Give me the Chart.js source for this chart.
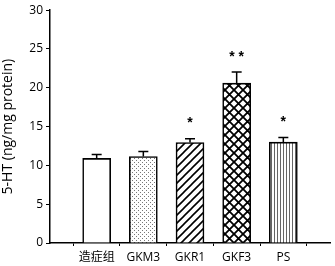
<!DOCTYPE html>
<html><head><meta charset="utf-8">
<script src="https://cdn.jsdelivr.net/npm/chart.js@4.4.0/dist/chart.umd.min.js"></script>
<style>html,body{margin:0;padding:0;background:#fff}#wrap{width:335px;height:266px}</style>
</head><body><div id="wrap"><canvas id="c" width="335" height="266"></canvas></div>
<script>
const categories = ['造症组', 'GKM3', 'GKR1', 'GKF3', 'PS'];
const values = [10.9, 11.15, 12.95, 20.6, 13.0];
const errorTops = [11.4, 11.8, 13.45, 22.05, 13.6];
const marks = ['', '', '*', '**', '*'];
const yTicks = [0, 5, 10, 15, 20, 25, 30];

function pat(kind){
  const c = document.createElement('canvas');
  const x = c.getContext('2d');
  let s = 8;
  if (kind==='dots') s = 4;
  if (kind==='diag') s = 8;
  if (kind==='cross') s = 9;
  if (kind==='vert') s = 3;
  c.width = s; c.height = s;
  x.fillStyle = '#fff'; x.fillRect(0,0,s,s);
  x.strokeStyle = '#000';
  if (kind==='none') return '#fff';
  if (kind==='dots'){ x.fillStyle='#777'; x.fillRect(0,0,1,1); x.fillRect(2,2,1,1); }
  if (kind==='diag'){ x.lineWidth=1.6; x.beginPath(); x.moveTo(-1,s+1); x.lineTo(s+1,-1); x.moveTo(-1,1); x.lineTo(1,-1); x.moveTo(s-1,s+1); x.lineTo(s+1,s-1); x.stroke(); }
  if (kind==='cross'){ x.lineWidth=1.8; x.beginPath(); x.moveTo(0,0); x.lineTo(s,s); x.moveTo(s,0); x.lineTo(0,s); x.stroke(); }
  if (kind==='vert'){ x.fillStyle='#666'; x.fillRect(1,0,1,s); }
  return x.createPattern(c,'repeat');
}
const fills = [pat('none'), pat('dots'), pat('diag'), pat('cross'), pat('vert')];

const extras = {
  id:'extras',
  afterDatasetsDraw(chart){
    const ctx = chart.ctx, xs = chart.scales.x, ys = chart.scales.y;
    ctx.save();
    ctx.strokeStyle='#000'; ctx.lineWidth=1.5;
    values.forEach((v,i)=>{
      const px = xs.getPixelForValue(i+1);
      const y0 = ys.getPixelForValue(v), y1 = ys.getPixelForValue(errorTops[i]);
      ctx.beginPath(); ctx.moveTo(px,y0); ctx.lineTo(px,y1);
      ctx.moveTo(px-5,y1); ctx.lineTo(px+5,y1); ctx.stroke();
      if (marks[i]){
        ctx.fillStyle='#000'; ctx.font='bold 14px "Liberation Sans"'; ctx.textAlign='center'; ctx.textBaseline='middle';
        const t = marks[i].split('').join(' ');
        ctx.fillText(t, px, y1-15);
      }
    });
    ctx.restore();
  }
};

new Chart(document.getElementById('c'), {
  type:'bar',
  data:{ datasets:[{
    data: values.map((v,i)=>({x:i+1,y:v})),
    backgroundColor: fills, borderColor:'#000', borderWidth:1.6, borderSkipped:'bottom', barThickness:28
  }]},
  options:{
    responsive:false, animation:false, devicePixelRatio:1,
    layout:{padding:{top:-2,right:5,left:0,bottom:0}},
    plugins:{legend:{display:false}, tooltip:{enabled:false}},
    scales:{
      x:{ type:'linear', min:0, max:6, offset:false,
        afterBuildTicks(s){ s.ticks = categories.map((c,i)=>({value:i+1})); },
        ticks:{ callback:(v)=>categories[v-1]||'', color:'#000', font:{family:'"Open Sans","Noto Sans CJK SC"', size:12}, maxRotation:0, autoSkip:false, padding:4 },
        grid:{ drawOnChartArea:false, drawTicks:true, tickLength:3, color:'#000', lineWidth:1 },
        border:{ display:true, color:'#000', width:1.5 },
        afterFit(s){ s.height = 23; }
      },
      y:{ min:0, max:30,
        afterBuildTicks(s){ s.ticks = yTicks.map(v=>({value:v})); },
        ticks:{ color:'#000', font:{family:'"Open Sans"', size:12}, padding:3 },
        grid:{ drawOnChartArea:false, drawTicks:true, tickLength:4, color:'#000' },
        border:{ display:true, color:'#000', width:1.5 },
        title:{ display:true, text:'5-HT (ng/mg protein)', color:'#000', font:{family:'"Open Sans"', size:14}, padding:{top:0,bottom:1} },
        afterFit(s){ s.width = 50; }
      }
    }
  },
  plugins:[extras]
});
</script></body></html>
